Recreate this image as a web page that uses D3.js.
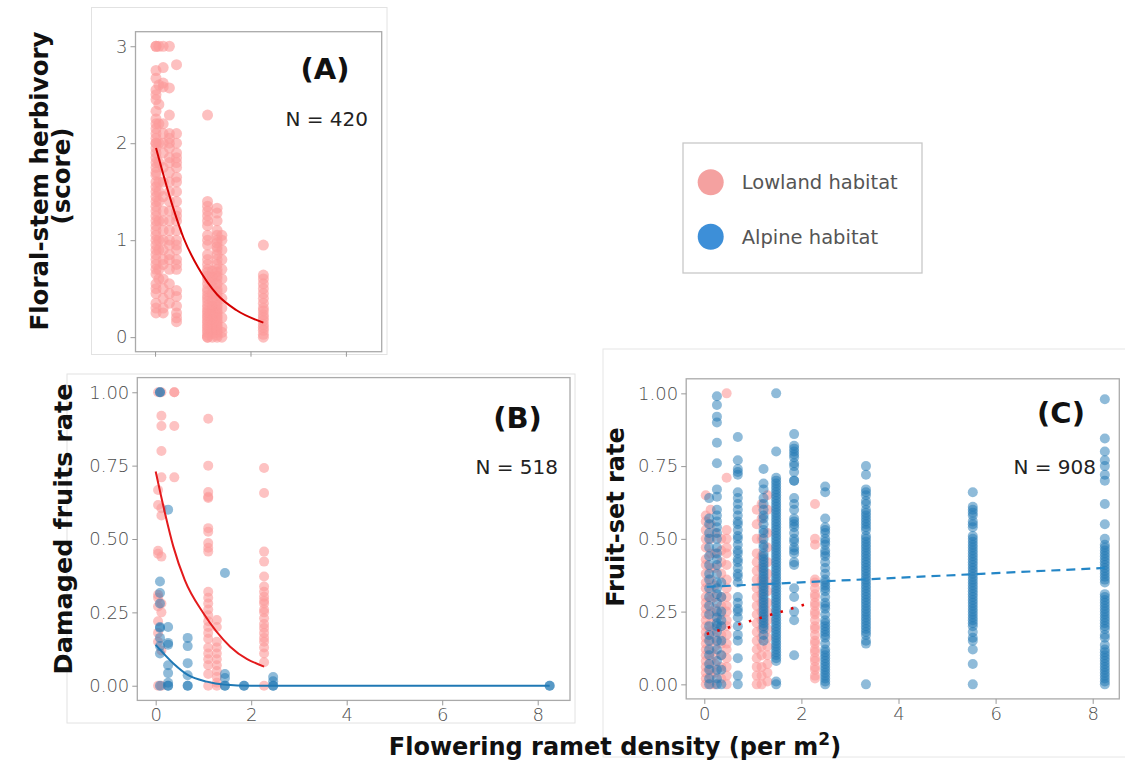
<!DOCTYPE html>
<html>
<head>
<meta charset="utf-8">
<script src="https://cdn.jsdelivr.net/npm/d3@7"></script>
<style>
  body { margin: 0; background: #fff; }
  text { font-family: "DejaVu Sans", sans-serif; }
</style>
</head>
<body>
<svg id="svg" width="1125" height="769"></svg>
<script>
// ---------- data ----------
// (A) floral-stem herbivory score, lowland only
var aDensity = [0.02, 0.08, 0.17, 0.3, 0.45, 1.1, 1.2, 1.3, 1.4, 2.27];
var aScore = [
    [3, 3, 2.75, 2.67, 2.55, 2.5, 2.45, 2.33, 2.25, 2.2, 2.15, 2.1, 2.05, 2, 2, 1.95, 1.9, 1.85, 1.8, 1.75, 1.7, 1.67, 1.6, 1.55, 1.5, 1.45, 1.4, 1.35, 1.3, 1.25, 1.2, 1.15, 1.1, 1.05, 1, 0.95, 0.9, 0.85, 0.8, 0.75, 0.7, 0.65, 0.55, 0.5, 0.45, 0.35, 0.3, 0.25],
    [3, 2.6, 2.4, 2.2, 2.0, 1.8, 1.6, 1.5, 1.4, 1.2, 1.0, 0.9, 0.7, 0.6],
    [3, 2.78, 2.62, 2.58, 2.2, 2.1, 2.0, 1.9, 1.75, 1.6, 1.45, 1.3, 1.2, 1.1, 1.0, 0.9, 0.8, 0.75, 0.6, 0.5, 0.4, 0.3, 0.25],
    [3, 2.57, 2.29, 2.1, 2.05, 2.0, 1.95, 1.85, 1.8, 1.7, 1.6, 1.5, 1.4, 1.3, 1.2, 1.1, 1.0, 0.95, 0.85, 0.8, 0.7, 0.55, 0.45, 0.35],
    [2.81, 2.1, 2.0, 1.9, 1.85, 1.8, 1.75, 1.65, 1.6, 1.5, 1.4, 1.3, 1.25, 1.2, 1.1, 1.0, 0.95, 0.9, 0.8, 0.75, 0.7, 0.48, 0.42, 0.32, 0.25, 0.2, 0.16],
    [2.29, 1.4, 1.35, 1.3, 1.25, 1.2, 1.15, 1.05, 1.0, 0.95, 0.85, 0.8, 0.75, 0.7, 0.67, 0.63, 0.6, 0.55, 0.5, 0.47, 0.43, 0.4, 0.37, 0.33, 0.3, 0.27, 0.25, 0.22, 0.2, 0.17, 0.15, 0.12, 0.1, 0.07, 0.05, 0.02, 0, 0],
    [0.68, 0.62, 0.58, 0.52, 0.45, 0.38, 0.32, 0.28, 0.23, 0.18, 0.13, 0.08, 0.04, 0],
    [1.33, 1.28, 1.2, 1.1, 1.05, 1.0, 0.97, 0.93, 0.9, 0.85, 0.8, 0.75, 0.7, 0.67, 0.63, 0.6, 0.55, 0.5, 0.47, 0.43, 0.4, 0.37, 0.33, 0.3, 0.27, 0.25, 0.22, 0.2, 0.17, 0.15, 0.12, 0.1, 0.07, 0.05, 0.02, 0],
    [1.05, 1.0, 0.9, 0.8, 0.7, 0.6, 0.5, 0.4, 0.3, 0.2, 0.1, 0.05, 0],
    [0.95, 0.64, 0.6, 0.55, 0.5, 0.45, 0.4, 0.35, 0.3, 0.27, 0.23, 0.2, 0.17, 0.13, 0.1, 0.07, 0.03, 0]
];
var aFit = [[0.02, 1.95], [0.35, 1.38], [0.6, 1.02], [0.9, 0.72], [1.3, 0.44], [1.7, 0.28], [2.27, 0.15]];

// (B) damaged fruits rate
var bLowDensity = [0.05, 0.12, 0.39, 1.1, 1.28, 2.27];
var bLowRate = [
    [1.0, 0.667, 0.616, 0.46, 0.45, 0.31, 0.3, 0.27, 0.22, 0.18, 0.15, 0],
    [1.0, 0.92, 0.885, 0.8, 0.71, 0.605, 0.58, 0.44, 0.28, 0.25, 0.12, 0],
    [1.0, 1.0, 0.885, 0.71],
    [0.91, 0.75, 0.66, 0.644, 0.64, 0.537, 0.525, 0.486, 0.47, 0.457, 0.32, 0.3, 0.28, 0.26, 0.24, 0.22, 0.2, 0.18, 0.16, 0.13, 0.11, 0.09, 0.07, 0.04, 0],
    [0.224, 0.2, 0.15, 0.13, 0.11, 0.09, 0.07, 0.05, 0.03, 0.01, 0],
    [0.742, 0.657, 0.457, 0.423, 0.372, 0.338, 0.32, 0.303, 0.29, 0.28, 0.26, 0.25, 0.23, 0.21, 0.197, 0.18, 0.163, 0.15, 0.13, 0.11, 0.08, 0]
];
var bAlpDensity = [0.09, 0.26, 0.67, 1.45, 1.85, 2.46, 8.25];
var bAlpRate = [
    [1.0, 1.0, 0.355, 0.316, 0.28, 0.2, 0.197, 0.163, 0.135, 0.11, 0],
    [0.6, 0.2, 0.146, 0.14, 0.07, 0.043, 0.01, 0, 0],
    [0.163, 0.135, 0.077, 0.036, 0, 0],
    [0.384, 0.04, 0.026, 0, 0],
    [0, 0],
    [0.03, 0.015, 0, 0],
    [0, 0]
];
var bLowFit = [[0.0, 0.73], [0.195, 0.588], [0.37, 0.474], [0.61, 0.36], [1.0, 0.247], [1.56, 0.133], [2.27, 0.065]];
var bAlpFit = [[0.0, 0.139], [0.37, 0.076], [0.68, 0.036], [1.07, 0.014], [1.42, 0.004], [2.0, 0], [8.25, 0]];

// (C) fruit-set rate
var cLowDensity = [0.03, 0.13, 0.22, 0.35, 0.46, 1.08, 1.18, 1.3, 2.28];
var cLowRate = [
    [0.65, 0.58, 0.56, 0.53, 0.5, 0.47, 0.43, 0.41, 0.38, 0.35, 0.33, 0.3, 0.28, 0.26, 0.24, 0.22, 0.2, 0.18, 0.16, 0.14, 0.12, 0.1, 0.08, 0.06, 0.04, 0.02, 0],
    [0.6, 0.55, 0.5, 0.45, 0.4, 0.36, 0.32, 0.29, 0.25, 0.21, 0.18, 0.15, 0.11, 0.08, 0.05, 0.03, 0],
    [0.52, 0.45, 0.4, 0.34, 0.3, 0.26, 0.23, 0.19, 0.16, 0.13, 0.1, 0.07, 0.04, 0],
    [0.5, 0.46, 0.42, 0.38, 0.3, 0.27, 0.24, 0.2, 0.17, 0.14, 0.1, 0.06, 0.02],
    [1.0, 0.71, 0.53, 0.5, 0.47, 0.45, 0.41, 0.36, 0.33, 0.3, 0.27, 0.25, 0.22, 0.2, 0.17, 0.14, 0.12, 0.09, 0.06, 0.03, 0],
    [0.6, 0.55, 0.5, 0.45, 0.42, 0.39, 0.36, 0.33, 0.3, 0.27, 0.24, 0.21, 0.18, 0.15, 0.12, 0.09, 0.06, 0.03, 0],
    [0.62, 0.57, 0.5, 0.44, 0.4, 0.36, 0.34, 0.31, 0.28, 0.25, 0.22, 0.19, 0.16, 0.13, 0.1, 0.06, 0.03, 0],
    [0.65, 0.6, 0.52, 0.47, 0.42, 0.38, 0.35, 0.32, 0.28, 0.25, 0.22, 0.19, 0.16, 0.13, 0.1, 0.07, 0.04, 0.01],
    [0.62, 0.5, 0.48, 0.36, 0.35, 0.33, 0.31, 0.3, 0.28, 0.27, 0.25, 0.24, 0.22, 0.2, 0.19, 0.17, 0.15, 0.14, 0.12, 0.11, 0.09, 0.08, 0.06, 0.05, 0.03, 0.02]
];
var cAlpDensity = [0.1, 0.26, 0.35, 0.69, 1.22, 1.48, 1.85, 2.49, 3.33, 5.53, 8.25];
var cAlpRate = [
    [0.64, 0.57, 0.55, 0.52, 0.5, 0.47, 0.44, 0.41, 0.38, 0.36, 0.33, 0.3, 0.27, 0.24, 0.2, 0.17, 0.15, 0.12, 0.1, 0.07, 0.05, 0.02, 0],
    [0.99, 0.96, 0.92, 0.9, 0.83, 0.76, 0.67, 0.645, 0.6, 0.58, 0.56, 0.54, 0.52, 0.5, 0.47, 0.45, 0.43, 0.41, 0.38, 0.35, 0.33, 0.31, 0.28, 0.25, 0.23, 0.21, 0.2, 0.18, 0.15, 0.12, 0.08, 0.05, 0.02, 0],
    [0.35, 0.3, 0.25, 0.22, 0.2, 0.15, 0.1, 0.05, 0],
    [0.85, 0.77, 0.74, 0.73, 0.72, 0.66, 0.64, 0.62, 0.6, 0.58, 0.56, 0.55, 0.53, 0.51, 0.5, 0.48, 0.46, 0.45, 0.43, 0.42, 0.4, 0.38, 0.37, 0.35, 0.3, 0.28, 0.26, 0.25, 0.23, 0.2, 0.17, 0.15, 0.09, 0.03, 0],
    [0.74, 0.69, 0.67, 0.64, 0.62, 0.6, 0.58, 0.57, 0.55, 0.53, 0.52, 0.5, 0.48, 0.47, 0.45, 0.44, 0.43, 0.42, 0.41, 0.4, 0.39, 0.38, 0.37, 0.36, 0.35, 0.34, 0.33, 0.32, 0.31, 0.3, 0.29, 0.28, 0.27, 0.26, 0.25, 0.24, 0.23, 0.22, 0.21, 0.2, 0.19, 0.17, 0.15],
    [1.0, 0.8, 0.71, 0.7, 0.69, 0.68, 0.67, 0.66, 0.65, 0.64, 0.63, 0.62, 0.61, 0.6, 0.59, 0.58, 0.57, 0.56, 0.55, 0.54, 0.53, 0.52, 0.51, 0.5, 0.49, 0.48, 0.47, 0.46, 0.45, 0.44, 0.43, 0.42, 0.41, 0.4, 0.39, 0.38, 0.37, 0.36, 0.35, 0.34, 0.33, 0.32, 0.31, 0.3, 0.29, 0.28, 0.27, 0.26, 0.25, 0.24, 0.23, 0.22, 0.21, 0.2, 0.19, 0.18, 0.17, 0.16, 0.15, 0.14, 0.13, 0.12, 0.11, 0.1, 0.09, 0.08, 0.01, 0],
    [0.86, 0.82, 0.81, 0.8, 0.79, 0.78, 0.76, 0.75, 0.73, 0.7, 0.7, 0.64, 0.62, 0.6, 0.57, 0.56, 0.55, 0.54, 0.52, 0.5, 0.49, 0.47, 0.46, 0.45, 0.42, 0.41, 0.33, 0.3, 0.25, 0.22, 0.1],
    [0.68, 0.66, 0.57, 0.54, 0.53, 0.52, 0.5, 0.49, 0.48, 0.46, 0.45, 0.44, 0.42, 0.4, 0.38, 0.36, 0.35, 0.34, 0.33, 0.32, 0.3, 0.28, 0.27, 0.26, 0.24, 0.22, 0.21, 0.2, 0.19, 0.18, 0.17, 0.16, 0.14, 0.12, 0.11, 0.1, 0.09, 0.08, 0.07, 0.06, 0.05, 0.04, 0.03, 0.02, 0.01, 0],
    [0.75, 0.72, 0.67, 0.66, 0.65, 0.63, 0.62, 0.6, 0.59, 0.58, 0.57, 0.56, 0.55, 0.54, 0.53, 0.51, 0.5, 0.49, 0.48, 0.47, 0.46, 0.45, 0.44, 0.43, 0.42, 0.41, 0.4, 0.39, 0.38, 0.37, 0.36, 0.35, 0.34, 0.33, 0.32, 0.31, 0.3, 0.29, 0.28, 0.27, 0.26, 0.25, 0.24, 0.23, 0.22, 0.21, 0.2, 0.19, 0.18, 0.17, 0.15, 0.14, 0],
    [0.66, 0.61, 0.6, 0.59, 0.58, 0.56, 0.55, 0.54, 0.51, 0.5, 0.49, 0.48, 0.47, 0.46, 0.45, 0.44, 0.43, 0.42, 0.41, 0.4, 0.39, 0.38, 0.37, 0.36, 0.35, 0.34, 0.33, 0.32, 0.31, 0.3, 0.29, 0.28, 0.27, 0.26, 0.25, 0.24, 0.23, 0.22, 0.21, 0.2, 0.18, 0.16, 0.15, 0.12, 0.07, 0],
    [0.98, 0.845, 0.8, 0.77, 0.75, 0.72, 0.7, 0.62, 0.55, 0.5, 0.48, 0.47, 0.46, 0.45, 0.44, 0.43, 0.42, 0.41, 0.4, 0.39, 0.38, 0.37, 0.36, 0.35, 0.31, 0.3, 0.29, 0.28, 0.27, 0.26, 0.25, 0.24, 0.23, 0.22, 0.21, 0.2, 0.19, 0.17, 0.16, 0.135, 0.12, 0.11, 0.1, 0.09, 0.08, 0.07, 0.06, 0.05, 0.04, 0.03, 0.02, 0.01, 0]
];
var cAlpFit = [[0.05, 0.335], [8.25, 0.4]];
var cLowFit = [[0.05, 0.173], [2.11, 0.276]];

var rateTicks = [0, 0.25, 0.5, 0.75, 1];
var densityTicks = [0, 2, 4, 6, 8];
var scoreTicks = [0, 1, 2, 3];
var habitats = ["Lowland habitat", "Alpine habitat"];

// ---------- styles ----------
var pinkPt = "#FB9A99", bluePt = "#1F78B4";
var redLine = "#E31A1C", blueLine = "#1F78B4";
var legendCol = ["#F4A1A0", "#3D8FD8"];

var svg = d3.select("#svg");
svg.append("rect").attr("width", 1125).attr("height", 769).attr("fill", "#fff");

// light frames round each sub-figure
svg.append("rect").attr("x", 91.5).attr("y", 7.5).attr("width", 295.5).attr("height", 347)
    .attr("fill", "none").attr("stroke", "#e2e2e2");
svg.append("rect").attr("x", 67).attr("y", 374).attr("width", 508).attr("height", 349)
    .attr("fill", "none").attr("stroke", "#e2e2e2");
svg.append("rect").attr("x", 603).attr("y", 349).attr("width", 530).attr("height", 408)
    .attr("fill", "none").attr("stroke", "#e6e6e6");

function makePanel(box, xDom, yDom) {
    var x = d3.scaleLinear().domain(xDom).range([box.left, box.right]);
    var y = d3.scaleLinear().domain(yDom).range([box.bottom, box.top]);
    var g = svg.append("g");
    g.append("rect")
        .attr("x", box.left).attr("y", box.top)
        .attr("width", box.right - box.left).attr("height", box.bottom - box.top)
        .attr("fill", "#fff").attr("stroke", "#aaa").attr("stroke-width", 1.3);
    return {x: x, y: y, g: g, box: box};
}

function drawAxes(p, xTicks, yTicks, yFmt, xLabels) {
    var ya = p.g.append("g").attr("transform", "translate(" + p.box.left + ",0)")
        .call(d3.axisLeft(p.y).tickValues(yTicks).tickFormat(yFmt).tickSize(5).tickPadding(3));
    var xa = p.g.append("g").attr("transform", "translate(0," + p.box.bottom + ")")
        .call(d3.axisBottom(p.x).tickValues(xTicks)
            .tickFormat(xLabels ? d3.format("d") : function(){ return ""; })
            .tickSize(5).tickPadding(3));
    [ya, xa].forEach(function(a) {
        a.select(".domain").remove();
        a.selectAll("line").attr("stroke", "#999");
        a.selectAll("text").attr("fill", "#4d4d4d")
            .style("font-family", "DejaVu Sans").style("font-size", "18px").style("font-weight", 300);
    });
}

function drawColumns(p, xs, ys, color, opacity, r) {
    var pts = [];
    xs.forEach(function(xv, i) {
        ys[i].forEach(function(yv) { pts.push([xv, yv]); });
    });
    p.g.append("g").selectAll("circle").data(pts).enter()
        .append("circle")
        .attr("cx", function(d){ return p.x(d[0]); })
        .attr("cy", function(d){ return p.y(d[1]); })
        .attr("r", r)
        .attr("fill", color)
        .attr("fill-opacity", opacity);
}

function drawFit(p, pts, color, dash, width) {
    var line = d3.line()
        .x(function(d){ return p.x(d[0]); })
        .y(function(d){ return p.y(d[1]); })
        .curve(d3.curveMonotoneX);
    var path = p.g.append("path").datum(pts)
        .attr("d", line).attr("fill", "none")
        .attr("stroke", color).attr("stroke-width", width);
    if (dash) path.attr("stroke-dasharray", dash);
    return path;
}

function label(p, tag, n, tagPos, nPos) {
    p.g.append("text").attr("x", tagPos[0]).attr("y", tagPos[1])
        .attr("text-anchor", "middle")
        .style("font-size", "29px").style("font-weight", "bold").attr("fill", "#111")
        .text(tag);
    p.g.append("text").attr("x", nPos[0]).attr("y", nPos[1])
        .attr("text-anchor", "end")
        .style("font-size", "20px").attr("fill", "#222")
        .text("N = " + n);
}

// ---------- panel A ----------
var pA = makePanel({left: 135.5, right: 381.7, top: 31.7, bottom: 351.7}, [-0.41, 4.75], [-0.15, 3.15]);
drawAxes(pA, [0, 2, 4], scoreTicks, d3.format("d"), false);
drawColumns(pA, aDensity, aScore, pinkPt, 0.62, 5.5);
drawFit(pA, aFit, "#d40000", null, 2);
label(pA, "(A)", 420, [325, 79], [368, 126]);

// ---------- panel B ----------
var pB = makePanel({left: 137.3, right: 570, top: 377.6, bottom: 700.4}, [-0.385, 8.676], [-0.05, 1.05]);
drawAxes(pB, densityTicks, rateTicks, d3.format(".2f"), true);
drawColumns(pB, bLowDensity, bLowRate, pinkPt, 0.6, 5);
drawColumns(pB, bAlpDensity, bAlpRate, bluePt, 0.5, 5);
drawFit(pB, bLowFit, redLine, null, 2);
drawFit(pB, bAlpFit, blueLine, null, 2);
label(pB, "(B)", 518, [517.5, 428], [558, 474]);

// ---------- panel C ----------
var pC = makePanel({left: 686.2, right: 1119.3, top: 378.8, bottom: 698.9}, [-0.373, 8.548], [-0.05, 1.05]);
drawAxes(pC, densityTicks, rateTicks, d3.format(".2f"), true);
drawColumns(pC, cLowDensity, cLowRate, pinkPt, 0.6, 5);
drawColumns(pC, cAlpDensity, cAlpRate, bluePt, 0.5, 5);
drawFit(pC, cAlpFit, "#2486c6", "9,6", 2.2);
drawFit(pC, cLowFit, "#e00000", "2.5,8.5", 2.6);
label(pC, "(C)", 908, [1061, 423], [1096, 474]);

// ---------- axis titles ----------
function vTitle(x, y, txt, size) {
    svg.append("text")
        .attr("transform", "translate(" + x + "," + y + ") rotate(-90)")
        .attr("text-anchor", "middle")
        .style("font-size", size + "px").style("font-weight", "bold").attr("fill", "#111")
        .text(txt);
}
vTitle(48, 181, "Floral-stem herbivory", 24.5);
vTitle(70, 176, "(score)", 24.5);
vTitle(72, 529, "Damaged fruits rate", 25.5);
vTitle(624, 517, "Fruit-set rate", 24);

var xt = svg.append("text").attr("x", 615).attr("y", 755)
    .attr("text-anchor", "middle")
    .style("font-size", "24px").style("font-weight", "bold").attr("fill", "#111");
xt.append("tspan").text("Flowering ramet density (per m");
xt.append("tspan").attr("dy", -10).style("font-size", "17px").text("2");
xt.append("tspan").attr("dy", 10).text(")");

// ---------- legend ----------
var lg = svg.append("g");
lg.append("rect").attr("x", 683).attr("y", 143).attr("width", 239).attr("height", 130)
    .attr("fill", "#fff").attr("stroke", "#c8c8c8").attr("stroke-width", 1.3);
var legY = d3.scalePoint().domain(habitats).range([182.3, 236.7]);
habitats.forEach(function(h, i) {
    lg.append("circle").attr("cx", 710.7).attr("cy", legY(h)).attr("r", 13).attr("fill", legendCol[i]);
    lg.append("text").attr("x", 741.7).attr("y", legY(h) + 7)
        .style("font-size", "19.5px").attr("fill", "#555").text(h);
});
</script>
</body>
</html>
